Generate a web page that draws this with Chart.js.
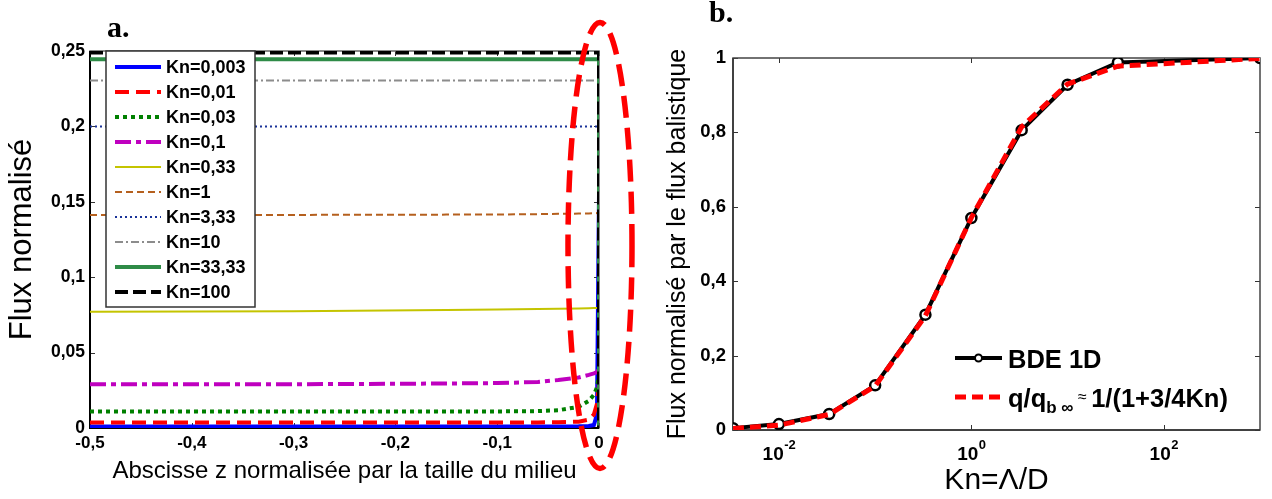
<!DOCTYPE html>
<html>
<head>
<meta charset="utf-8">
<script src="https://cdn.jsdelivr.net/npm/chart.js@4.4.1/dist/chart.umd.min.js"></script>
<style>
  body { margin: 0; background: #fff; width: 1272px; height: 499px; overflow: hidden; position: relative; }
  .panel { position: absolute; top: 0; height: 499px; }
  #wrapA { left: 0; width: 650px; }
  #wrapB { left: 650px; width: 622px; }
  .tag { position: absolute; font: bold 30px "Liberation Serif", "Times New Roman", serif; color: #000; }
</style>
</head>
<body>
<div class="panel" id="wrapA"><canvas id="chartA"></canvas></div>
<div class="panel" id="wrapB"><canvas id="chartB"></canvas></div>
<div class="tag" style="left:107px; top:10px;">a.</div>
<div class="tag" style="left:709px; top:-5px;">b.</div>
<script>
// ---- panel a : flux profiles across the medium ----
const zValues     = [-0.5, -0.3, -0.15, -0.1, -0.06, -0.04, -0.02, -0.01, -0.005, -0.002, 0, 0];
const fluxKn0003  = [0.001, 0.001, 0.001, 0.001, 0.001, 0.001, 0.0011, 0.0013, 0.002, 0.009, 0.155, null];
const fluxKn001   = [0.0037, 0.0037, 0.0037, 0.0037, 0.0037, 0.0038, 0.0042, 0.0055, 0.009, 0.016, 0.03, null];
const fluxKn003   = [0.011, 0.011, 0.011, 0.011, 0.0112, 0.0118, 0.014, 0.018, 0.022, 0.027, 0.035, null];
const fluxKn01    = [0.029, 0.029, 0.0295, 0.0298, 0.0305, 0.0318, 0.0335, 0.0352, 0.0362, 0.037, 0.039, null];
const fluxKn033   = [0.0771, 0.0774, 0.0782, 0.0786, 0.0789, 0.079, 0.0792, 0.0794, 0.0795, 0.0796, 0.08, null];
const fluxKn1     = [0.1412, 0.1413, 0.1415, 0.1416, 0.1418, 0.142, 0.1422, 0.1423, 0.1424, 0.1425, 0.1425, null];
const fluxKn333   = [0.2, 0.2, 0.2, 0.2, 0.2, 0.2, 0.2, 0.2, 0.2, 0.2, 0.2, null];
const fluxKn10    = [0.2305, 0.2305, 0.2305, 0.2305, 0.2305, 0.2305, 0.2305, 0.2305, 0.2305, 0.2305, 0.2305, null];
const fluxKn3333  = [0.2445, 0.2445, 0.2445, 0.2445, 0.2445, 0.2445, 0.2445, 0.2445, 0.2445, 0.2445, 0.2445, 0];
const fluxKn100   = [0.249, 0.249, 0.249, 0.249, 0.249, 0.249, 0.249, 0.249, 0.249, 0.249, 0.249, 0];
const knLabelsA   = ['Kn=0,003', 'Kn=0,01', 'Kn=0,03', 'Kn=0,1', 'Kn=0,33', 'Kn=1', 'Kn=3,33', 'Kn=10', 'Kn=33,33', 'Kn=100'];

// ---- panel b : normalised flux vs Knudsen number ----
const knB         = [0.00333, 0.01, 0.0333, 0.1, 0.333, 1, 3.333, 10, 33.33, 1000];
const fluxBDE     = [0.005, 0.016, 0.043, 0.12, 0.31, 0.57, 0.806, 0.928, 0.988, 1.0];
const fluxApprox  = [0.004, 0.013, 0.042, 0.118, 0.307, 0.571, 0.815, 0.93, 0.978, 0.999];
const xTicksB     = [0.01, 1, 100];
const xTickExpB   = ['-2', '0', '2'];

const SANS = '"Liberation Sans", Arial, sans-serif';
Chart.defaults.font.family = SANS;
Chart.defaults.color = '#000';

const fmtComma = v => (Math.abs(v) < 1e-9 ? '0' : String(+v.toFixed(2)).replace('.', ','));

// box + inward tick marks, matlab style
const frameTicks = {
    id: 'frameTicks',
    beforeDatasetsDraw(chart, args, o) {
        const { ctx, chartArea: a } = chart;
        const xs = chart.scales.x, ys = chart.scales.y;
        ctx.save();
        ctx.strokeStyle = o.tickColor;
        ctx.lineWidth = 1;
        ctx.beginPath();
        xs.ticks.forEach(t => {
            const px = Math.round(xs.getPixelForValue(t.value)) + 0.5;
            ctx.moveTo(px, a.bottom); ctx.lineTo(px, a.bottom - o.len);
            ctx.moveTo(px, a.top); ctx.lineTo(px, a.top + o.len);
        });
        ys.ticks.forEach(t => {
            const py = Math.round(ys.getPixelForValue(t.value)) + 0.5;
            ctx.moveTo(a.left, py); ctx.lineTo(a.left + o.len, py);
            ctx.moveTo(a.right, py); ctx.lineTo(a.right - o.len, py);
        });
        ctx.stroke();
        ctx.strokeStyle = o.frameColor;
        ctx.lineWidth = o.frameWidth;
        ctx.strokeRect(a.left, a.top, a.right - a.left, a.bottom - a.top);
        ctx.strokeStyle = o.axisColor;
        ctx.lineWidth = o.axisWidth;
        ctx.beginPath();
        ctx.moveTo(a.left, a.top); ctx.lineTo(a.left, a.bottom); ctx.lineTo(a.right, a.bottom);
        ctx.stroke();
        ctx.restore();
    }
};

// "10" with a raised exponent under each decade tick
const powerTicks = {
    id: 'powerTicks',
    afterDraw(chart, args, o) {
        if (!o.enabled) return;
        const { ctx, chartArea: a, scales: { x } } = chart;
        ctx.save();
        ctx.fillStyle = '#000';
        ctx.textBaseline = 'middle';
        ctx.textAlign = 'left';
        xTicksB.forEach((v, i) => {
            ctx.font = 'bold 19px ' + SANS;
            const wBase = ctx.measureText('10').width;
            ctx.font = 'bold 13px ' + SANS;
            const wExp = ctx.measureText(xTickExpB[i]).width;
            const left = x.getPixelForValue(v) - (wBase + wExp) / 2;
            ctx.font = 'bold 19px ' + SANS;
            ctx.fillText('10', left, a.bottom + 25);
            ctx.font = 'bold 13px ' + SANS;
            ctx.fillText(xTickExpB[i], left + wBase + 0.5, a.bottom + 15);
        });
        ctx.restore();
    }
};

// legend in a white box, top-left of the plot
const boxLegend = {
    id: 'boxLegend',
    afterDatasetsDraw(chart, args, o) {
        if (!o.enabled) return;
        const { ctx, chartArea: a } = chart;
        const left = a.left + o.dx, top = a.top + o.dy;
        ctx.save();
        ctx.fillStyle = '#fff';
        ctx.fillRect(left, top, o.w, o.h);
        ctx.strokeStyle = '#333';
        ctx.lineWidth = 1.5;
        ctx.strokeRect(left, top, o.w, o.h);
        ctx.font = 'bold 18px ' + SANS;
        ctx.textBaseline = 'middle';
        chart.data.datasets.forEach((ds, i) => {
            const cy = top + o.first + i * o.rowH;
            ctx.strokeStyle = ds.borderColor;
            ctx.lineWidth = ds.borderWidth;
            ctx.setLineDash(ds.borderDash || []);
            ctx.beginPath();
            ctx.moveTo(left + o.lineX0, cy);
            ctx.lineTo(left + o.lineX1, cy);
            ctx.stroke();
            ctx.setLineDash([]);
            ctx.fillStyle = '#000';
            ctx.fillText(ds.label, left + o.textX, cy + 1);
        });
        ctx.restore();
    }
};

// red dashed ellipse round the wall region
const wallEllipse = {
    id: 'wallEllipse',
    afterDraw(chart, args, o) {
        if (!o.enabled) return;
        const { ctx, chartArea: a, scales: { x } } = chart;
        ctx.save();
        ctx.strokeStyle = '#ff0000';
        ctx.lineWidth = 5.5;
        ctx.setLineDash([22, 10]);
        ctx.beginPath();
        ctx.ellipse(x.getPixelForValue(0) + 1, (a.top + a.bottom) / 2 + 6, 32, 223, 0, 0, 2 * Math.PI);
        ctx.stroke();
        ctx.restore();
    }
};

// legend of panel b, with the subscript written in smaller type
const legendPartsB = [
    [{ t: 'BDE 1D' }],
    [{ t: 'q/q' }, { t: 'b \u221E', sub: true }, { t: ' \u2248 ', small: true }, { t: '1/(1+3/4Kn)' }]
];
const lineLegend = {
    id: 'lineLegend',
    afterDatasetsDraw(chart, args, o) {
        if (!o.enabled) return;
        const { ctx, chartArea: a } = chart;
        ctx.save();
        ctx.textBaseline = 'middle';
        chart.data.datasets.forEach((ds, i) => {
            const cy = a.top + o.top + i * o.rowH;
            const x0 = a.left + o.left, x1 = x0 + o.lineW;
            ctx.strokeStyle = ds.borderColor;
            ctx.lineWidth = ds.borderWidth;
            ctx.setLineDash(ds.borderDash || []);
            ctx.beginPath();
            ctx.moveTo(x0, cy); ctx.lineTo(x1, cy);
            ctx.stroke();
            ctx.setLineDash([]);
            if (ds.pointRadius) {
                ctx.beginPath();
                ctx.arc((x0 + x1) / 2, cy, 3.5, 0, 2 * Math.PI);
                ctx.fillStyle = '#fff';
                ctx.fill();
                ctx.lineWidth = 2;
                ctx.strokeStyle = '#000';
                ctx.stroke();
            }
            let tx = x1 + o.gap;
            ctx.fillStyle = '#000';
            legendPartsB[i].forEach(p => {
                let dy = 3;
                if (p.sub) { ctx.font = 'bold 17px ' + SANS; dy = 11; }
                else if (p.small) { ctx.font = '16px ' + SANS; dy = 1; }
                else ctx.font = 'bold 25.5px ' + SANS;
                ctx.fillText(p.t, tx, cy + dy);
                tx += ctx.measureText(p.t).width;
            });
        });
        ctx.restore();
    }
};

Chart.register(frameTicks, powerTicks, boxLegend, wallEllipse, lineLegend);

const styleA = [
    { color: '#0000ff', width: 4, dash: [] },
    { color: '#ff0000', width: 4, dash: [14, 7] },
    { color: '#008000', width: 4, dash: [4, 4] },
    { color: '#bf00bf', width: 4, dash: [16, 5, 5, 5] },
    { color: '#c4c400', width: 2, dash: [] },
    { color: '#b5601e', width: 2, dash: [7, 4] },
    { color: '#1a3399', width: 2, dash: [2, 3] },
    { color: '#8c8c8c', width: 2, dash: [8, 3, 2, 3] },
    { color: '#2e8b47', width: 4, dash: [] },
    { color: '#000000', width: 4, dash: [13, 5] }
];
const seriesA = [fluxKn0003, fluxKn001, fluxKn003, fluxKn01, fluxKn033, fluxKn1, fluxKn333, fluxKn10, fluxKn3333, fluxKn100];

const chartA = new Chart(document.getElementById('chartA'), {
    type: 'line',
    data: {
        datasets: seriesA.map((vals, i) => ({
            label: knLabelsA[i],
            data: zValues.map((z, j) => ({ x: z, y: vals[j] })),
            borderColor: styleA[i].color,
            borderWidth: styleA[i].width,
            borderDash: styleA[i].dash,
            pointRadius: 0,
            tension: 0,
            fill: false,
            order: seriesA.length - i
        }))
    },
    options: {
        responsive: true,
        maintainAspectRatio: false,
        animation: false,
        devicePixelRatio: 1,
        layout: { padding: { left: 0, right: 51, top: 51, bottom: 0 } },
        scales: {
            x: {
                type: 'linear',
                min: -0.5,
                max: 0,
                grid: { display: false, drawTicks: false },
                border: { display: false },
                ticks: { stepSize: 0.1, padding: 5, font: { size: 17, weight: 'bold' }, callback: v => fmtComma(v), maxRotation: 0 },
                title: { display: true, text: 'Abscisse z normalisée par la taille du milieu', font: { size: 24 }, padding: { top: 0, bottom: 13 } },
                afterFit: s => { s.height = 71; }
            },
            y: {
                min: 0,
                max: 0.25,
                grid: { display: false, drawTicks: false },
                border: { display: false },
                ticks: { stepSize: 0.05, padding: 5, font: { size: 17.5, weight: 'bold' }, callback: v => fmtComma(v) },
                title: { display: true, text: 'Flux normalisé', font: { size: 31 }, padding: { top: 4, bottom: 0 } },
                afterFit: s => { s.width = 90; }
            }
        },
        plugins: {
            legend: { display: false },
            tooltip: { enabled: false },
            frameTicks: { len: 5, tickColor: '#333', frameColor: '#666', frameWidth: 1.5, axisColor: '#000', axisWidth: 2 },
            powerTicks: { enabled: false },
            boxLegend: { enabled: true, dx: 16, dy: 0, w: 149, h: 256, first: 16, rowH: 25, lineX0: 9, lineX1: 55, textX: 60 },
            wallEllipse: { enabled: true },
            lineLegend: { enabled: false }
        }
    }
});

const chartB = new Chart(document.getElementById('chartB'), {
    type: 'line',
    data: {
        datasets: [{
            label: 'BDE 1D',
            data: knB.map((k, i) => ({ x: k, y: fluxBDE[i] })),
            borderColor: '#000',
            borderWidth: 4,
            pointRadius: 5,
            pointBackgroundColor: '#fff',
            pointBorderColor: '#000',
            pointBorderWidth: 2.5,
            tension: 0,
            order: 1
        }, {
            label: 'q/qb\u221E \u2248 1/(1+3/4Kn)',
            data: knB.map((k, i) => ({ x: k, y: fluxApprox[i] })),
            borderColor: '#ff0000',
            borderWidth: 5,
            borderDash: [11, 6],
            pointRadius: 0,
            tension: 0,
            order: 0
        }]
    },
    options: {
        responsive: true,
        maintainAspectRatio: false,
        animation: false,
        devicePixelRatio: 1,
        layout: { padding: { left: 0, right: 12, top: 58, bottom: 0 } },
        scales: {
            x: {
                type: 'logarithmic',
                min: 0.00333,
                max: 1000,
                grid: { display: false, drawTicks: false },
                border: { display: false },
                afterBuildTicks: s => { s.ticks = xTicksB.map(v => ({ value: v })); },
                ticks: { display: false },
                title: { display: true, text: 'Kn=\u039B/D', font: { size: 30 }, padding: { top: 0, bottom: 0 } },
                afterFit: s => { s.height = 69; }
            },
            y: {
                min: 0,
                max: 1,
                grid: { display: false, drawTicks: false },
                border: { display: false },
                ticks: { stepSize: 0.2, padding: 7, font: { size: 18.5, weight: 'bold' }, callback: v => fmtComma(v) },
                title: { display: true, text: 'Flux normalisé par le flux balistique', font: { size: 25 }, padding: { top: 13, bottom: 0 } },
                afterFit: s => { s.width = 83; }
            }
        },
        plugins: {
            legend: { display: false },
            tooltip: { enabled: false },
            frameTicks: { len: 5, tickColor: '#333', frameColor: '#444', frameWidth: 1.5, axisColor: '#333', axisWidth: 1.5 },
            powerTicks: { enabled: true },
            boxLegend: { enabled: false },
            wallEllipse: { enabled: false },
            lineLegend: { enabled: true, left: 222, top: 300, rowH: 39, lineW: 47, gap: 6 }
        }
    }
});
</script>
</body>
</html>
